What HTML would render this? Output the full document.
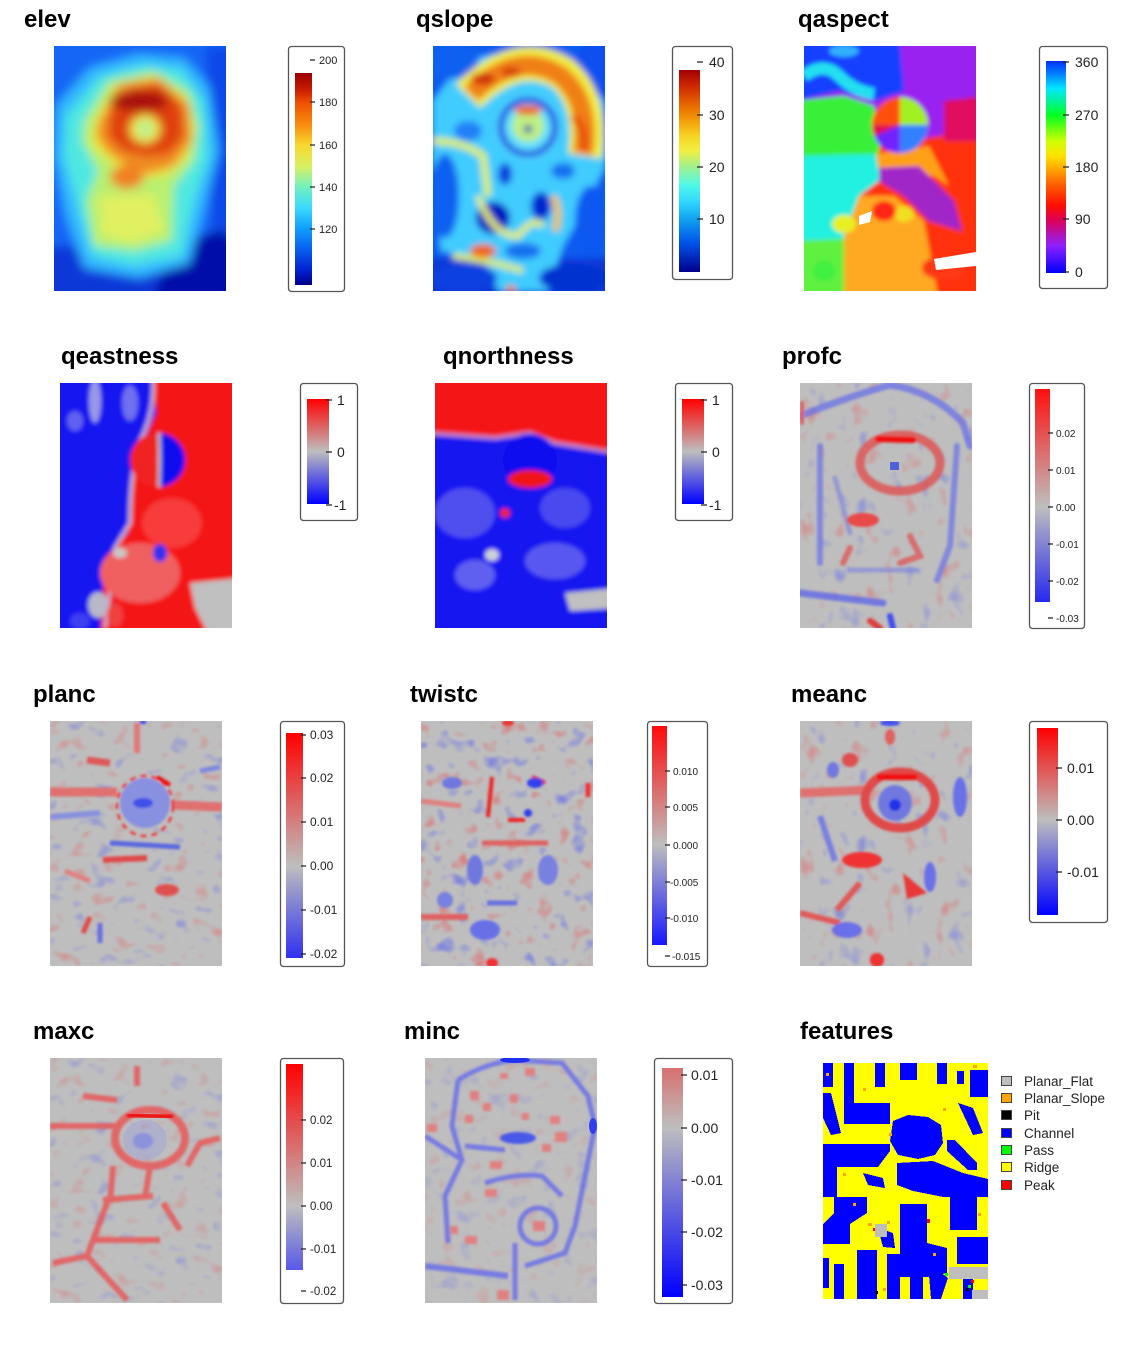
<!DOCTYPE html>
<html><head><meta charset="utf-8"><style>
html,body{margin:0;padding:0;background:#fff;}
svg{display:block;}
.t{font-family:"Liberation Sans",Arial,sans-serif;font-weight:bold;font-size:24px;fill:#000;}
.l{font-family:"Liberation Sans",Arial,sans-serif;fill:#222;}
.bx{fill:#fff;stroke:#555;stroke-width:1.3;}
.tk{stroke:#222;stroke-width:1.2;fill:none;}
</style></head><body>
<svg width="1125" height="1350" viewBox="0 0 1125 1350" xmlns="http://www.w3.org/2000/svg">
<defs>
<clipPath id="c"><rect x="0" y="0" width="172" height="245"/></clipPath>
<clipPath id="cf"><rect x="0" y="0" width="165" height="236"/></clipPath>
<filter id="b6" x="-30%" y="-30%" width="160%" height="160%"><feGaussianBlur stdDeviation="5"/></filter>
<filter id="b4" x="-30%" y="-30%" width="160%" height="160%"><feGaussianBlur stdDeviation="3.5"/></filter>
<filter id="b2" x="-30%" y="-30%" width="160%" height="160%"><feGaussianBlur stdDeviation="2"/></filter>
<filter id="b1" x="-30%" y="-30%" width="160%" height="160%"><feGaussianBlur stdDeviation="1.3"/></filter>
<filter id="n1" x="0" y="0" width="100%" height="100%" color-interpolation-filters="sRGB">
<feTurbulence type="fractalNoise" baseFrequency="0.06 0.045" numOctaves="2" seed="3" result="t"/>
<feColorMatrix in="t" type="matrix" values="0 0 0 0 0.92  0 0 0 0 0.32  0 0 0 0 0.32  4 0 0 0 -2.5" result="r"/>
<feColorMatrix in="t" type="matrix" values="0 0 0 0 0.32  0 0 0 0 0.36  0 0 0 0 0.95  -4 0 0 0 1.5" result="b"/>
<feMerge result="m"><feMergeNode in="r"/><feMergeNode in="b"/></feMerge>
<feGaussianBlur in="m" stdDeviation="0.8"/></filter>
<filter id="n2" x="0" y="0" width="100%" height="100%" color-interpolation-filters="sRGB">
<feTurbulence type="fractalNoise" baseFrequency="0.05 0.065" numOctaves="2" seed="11" result="t"/>
<feColorMatrix in="t" type="matrix" values="0 0 0 0 0.92  0 0 0 0 0.32  0 0 0 0 0.32  4 0 0 0 -2.5" result="r"/>
<feColorMatrix in="t" type="matrix" values="0 0 0 0 0.32  0 0 0 0 0.36  0 0 0 0 0.95  -4 0 0 0 1.5" result="b"/>
<feMerge result="m"><feMergeNode in="r"/><feMergeNode in="b"/></feMerge>
<feGaussianBlur in="m" stdDeviation="0.8"/></filter>
<filter id="n3" x="0" y="0" width="100%" height="100%" color-interpolation-filters="sRGB">
<feTurbulence type="fractalNoise" baseFrequency="0.06" numOctaves="2" seed="27" result="t"/>
<feColorMatrix in="t" type="matrix" values="0 0 0 0 0.92  0 0 0 0 0.32  0 0 0 0 0.32  4 0 0 0 -2.4" result="r"/>
<feColorMatrix in="t" type="matrix" values="0 0 0 0 0.32  0 0 0 0 0.36  0 0 0 0 0.95  -4 0 0 0 1.6" result="b"/>
<feMerge result="m"><feMergeNode in="r"/><feMergeNode in="b"/></feMerge>
<feGaussianBlur in="m" stdDeviation="0.8"/></filter>
<linearGradient id="gElev" x1="0" y1="0" x2="0" y2="1">
<stop offset="0" stop-color="#990000"/><stop offset="0.08" stop-color="#c81e00"/><stop offset="0.14" stop-color="#f05000"/><stop offset="0.25" stop-color="#f89010"/><stop offset="0.34" stop-color="#f8d830"/><stop offset="0.44" stop-color="#d8f060"/><stop offset="0.54" stop-color="#70f0c0"/><stop offset="0.64" stop-color="#38d8ff"/><stop offset="0.73" stop-color="#10a0ff"/><stop offset="0.83" stop-color="#0860f0"/><stop offset="0.93" stop-color="#0020d0"/><stop offset="1" stop-color="#00008b"/></linearGradient>
<linearGradient id="gSlope" x1="0" y1="0" x2="0" y2="1">
<stop offset="0" stop-color="#a00000"/><stop offset="0.08" stop-color="#d02800"/><stop offset="0.22" stop-color="#f08800"/><stop offset="0.32" stop-color="#f8d020"/><stop offset="0.40" stop-color="#f0f040"/><stop offset="0.48" stop-color="#a0f090"/><stop offset="0.57" stop-color="#50f8e8"/><stop offset="0.65" stop-color="#30d8ff"/><stop offset="0.74" stop-color="#10a0f0"/><stop offset="0.86" stop-color="#0050e8"/><stop offset="1" stop-color="#00008b"/></linearGradient>
<linearGradient id="gAsp" x1="0" y1="0" x2="0" y2="1">
<stop offset="0" stop-color="#0030ff"/><stop offset="0.06" stop-color="#0080ff"/><stop offset="0.13" stop-color="#00e8ff"/><stop offset="0.255" stop-color="#00ff20"/><stop offset="0.38" stop-color="#d0ff00"/><stop offset="0.45" stop-color="#ffe000"/><stop offset="0.5" stop-color="#ffb000"/><stop offset="0.6" stop-color="#ff5000"/><stop offset="0.68" stop-color="#ff1000"/><stop offset="0.745" stop-color="#e00050"/><stop offset="0.87" stop-color="#9020ff"/><stop offset="1" stop-color="#0000ff"/></linearGradient>
<linearGradient id="gRB" x1="0" y1="0" x2="0" y2="1"><stop offset="0" stop-color="#ff0000"/><stop offset="0.5" stop-color="#bebebe"/><stop offset="1" stop-color="#0000ff"/></linearGradient>
<linearGradient id="gProf" x1="0" y1="0" x2="0" y2="1"><stop offset="0" stop-color="#ff1010"/><stop offset="0.554" stop-color="#bebebe"/><stop offset="1" stop-color="#2828f0"/></linearGradient>
<linearGradient id="gPlan" x1="0" y1="0" x2="0" y2="1"><stop offset="0" stop-color="#ff0000"/><stop offset="0.59" stop-color="#bebebe"/><stop offset="1" stop-color="#3030f0"/></linearGradient>
<linearGradient id="gTwist" x1="0" y1="0" x2="0" y2="1"><stop offset="0" stop-color="#ff0a0a"/><stop offset="0.54" stop-color="#bebebe"/><stop offset="1" stop-color="#1818ff"/></linearGradient>
<linearGradient id="gMean" x1="0" y1="0" x2="0" y2="1"><stop offset="0" stop-color="#ff0000"/><stop offset="0.49" stop-color="#bebebe"/><stop offset="1" stop-color="#0000ff"/></linearGradient>
<linearGradient id="gMax" x1="0" y1="0" x2="0" y2="1"><stop offset="0" stop-color="#ff0000"/><stop offset="0.69" stop-color="#bebebe"/><stop offset="1" stop-color="#5858e8"/></linearGradient>
<linearGradient id="gMin" x1="0" y1="0" x2="0" y2="1"><stop offset="0" stop-color="#d87070"/><stop offset="0.26" stop-color="#bebebe"/><stop offset="1" stop-color="#0000ff"/></linearGradient>
</defs>

<!-- ===== Titles ===== -->
<text class="t" x="24" y="27">elev</text>
<text class="t" x="416" y="27">qslope</text>
<text class="t" x="798" y="27">qaspect</text>
<text class="t" x="61" y="364">qeastness</text>
<text class="t" x="443" y="364">qnorthness</text>
<text class="t" x="782" y="364">profc</text>
<text class="t" x="33" y="702">planc</text>
<text class="t" x="410" y="702">twistc</text>
<text class="t" x="791" y="702">meanc</text>
<text class="t" x="33" y="1039">maxc</text>
<text class="t" x="404" y="1039">minc</text>
<text class="t" x="800" y="1039">features</text>

<!-- ===== elev raster ===== -->
<g transform="translate(54,46)" clip-path="url(#c)">
<g filter="url(#b6)">
<rect x="-20" y="-20" width="212" height="285" fill="#1466f5"/>
<rect x="-20" y="200" width="212" height="70" fill="#0838d8"/>
<polygon points="115,205 192,170 192,265 95,265" fill="#0010a8"/>
<polygon points="152,0 192,0 192,200 158,180" fill="#0a4ae8"/>
<polygon points="2,60 35,22 85,8 130,12 155,40 165,105 150,165 135,218 85,232 30,222 12,170 0,110" fill="#30b8ff"/>
<polygon points="12,70 45,30 90,18 128,24 150,55 155,110 140,155 128,210 80,220 38,210 25,165 10,110" fill="#50e8e0"/>
<polygon points="30,75 55,35 100,25 135,45 145,80 140,115 120,140 118,195 80,205 40,200 32,155 44,125 28,95" fill="#b8f070"/>
<polygon points="40,78 60,40 100,30 132,52 140,85 132,112 110,130 80,132 55,115 38,98" fill="#f0e838"/>
<polygon points="45,150 100,148 110,185 80,196 48,190" fill="#e0f060"/>
<polygon points="45,75 65,38 105,32 135,58 138,95 120,120 95,128 75,120 55,108 42,90" fill="#f08a20"/>
<ellipse cx="73" cy="131" rx="17" ry="12" fill="#f08020"/>
<polygon points="55,70 75,42 105,38 128,60 130,90 115,108 92,110 70,105 55,92" fill="#e04010"/>
<ellipse cx="85" cy="55" rx="30" ry="10" fill="#a80808"/>
<ellipse cx="91" cy="83" rx="15" ry="14" fill="#e8f050"/>
<ellipse cx="91" cy="83" rx="7" ry="7" fill="#a8f0a0"/>
</g></g>
<rect class="bx" x="288.5" y="46.5" width="56" height="245" rx="3"/>
<rect x="295" y="73" width="17" height="212" fill="url(#gElev)"/>
<path class="tk" d="M310 60h5M310 102h5M310 145h5M310 187h5M310 229h5"/>
<g class="l" font-size="11"><text x="319" y="64">200</text><text x="319" y="106">180</text><text x="319" y="149">160</text><text x="319" y="191">140</text><text x="319" y="233">120</text></g>

<!-- ===== qslope raster ===== -->
<g transform="translate(433,46)" clip-path="url(#c)">
<g filter="url(#b4)">
<rect x="-20" y="-20" width="212" height="285" fill="#0a5cf0"/>
<rect x="-20" y="212" width="212" height="60" fill="#0838d8"/>
<polygon points="0,55 30,15 90,3 140,15 170,55 172,120 150,165 130,200 115,245 65,245 50,212 8,205 0,130" fill="#40ccff"/>
<ellipse cx="60" cy="172" rx="17" ry="16" fill="#0018c0"/>
<ellipse cx="108" cy="160" rx="10" ry="14" fill="#0028d0"/>
<ellipse cx="72" cy="128" rx="7" ry="11" fill="#1040e0"/>
<ellipse cx="12" cy="150" rx="14" ry="42" fill="#1060f0"/>
<ellipse cx="158" cy="175" rx="16" ry="35" fill="#0a58f0"/>
<ellipse cx="30" cy="232" rx="34" ry="14" fill="#0840e0"/>
<ellipse cx="140" cy="232" rx="34" ry="14" fill="#0030d0"/>
<ellipse cx="20" cy="15" rx="25" ry="18" fill="#1060f0"/>
<ellipse cx="165" cy="20" rx="22" ry="30" fill="#0a50f0"/>
<ellipse cx="35" cy="85" rx="14" ry="10" fill="#2080f8"/>
<ellipse cx="130" cy="125" rx="12" ry="8" fill="#1870f0"/>
<ellipse cx="90" cy="205" rx="18" ry="8" fill="#1870f0"/>
<path d="M35 50 Q85 0 130 28 Q160 55 152 110" stroke="#f0f040" stroke-width="34" fill="none"/>
<path d="M38 48 Q85 2 128 30 Q158 56 150 108" stroke="#f08018" stroke-width="20" fill="none"/>
<ellipse cx="50" cy="33" rx="12" ry="6" fill="#d03008"/>
<ellipse cx="78" cy="26" rx="10" ry="5" fill="#d84010"/>
<path d="M140 70 Q155 85 150 105" stroke="#e85010" stroke-width="8" fill="none"/>
<circle cx="95" cy="81" r="32" fill="#60e0ff"/>
<circle cx="95" cy="81" r="27" fill="none" stroke="#1030e0" stroke-width="6"/>
<circle cx="95" cy="80" r="16" fill="#c0f080"/>
<ellipse cx="95" cy="64" rx="14" ry="5" fill="#f06020"/>
<circle cx="95" cy="83" r="4" fill="#1020c0"/>
<path d="M0 95 Q30 95 50 110 L55 150" stroke="#e0f050" stroke-width="7" fill="none"/>
<path d="M45 150 Q60 190 85 190 Q100 170 110 180" stroke="#e8f048" stroke-width="6" fill="none"/>
<path d="M120 150 Q128 165 122 185" stroke="#f0c030" stroke-width="7" fill="none"/>
<path d="M20 210 Q60 215 90 225" stroke="#e0f050" stroke-width="6" fill="none"/>
<ellipse cx="50" cy="205" rx="13" ry="7" fill="#f06818"/>
<ellipse cx="78" cy="243" rx="5" ry="4" fill="#f08020"/>
</g></g>
<rect class="bx" x="672.5" y="46.5" width="60" height="233" rx="3"/>
<rect x="679" y="70" width="21" height="202" fill="url(#gSlope)"/>
<path class="tk" d="M697 62h6M697 115h6M697 167h6M697 219h6"/>
<g class="l" font-size="14"><text x="709" y="67">40</text><text x="709" y="120">30</text><text x="709" y="172">20</text><text x="709" y="224">10</text></g>

<!-- ===== qaspect raster ===== -->
<g transform="translate(804,46)" clip-path="url(#c)">
<g filter="url(#b2)">
<rect x="-10" y="-10" width="192" height="265" fill="#9a20f0"/>
<polygon points="-10,-10 95,-10 100,45 70,55 35,45 -10,55" fill="#1840ff"/>
<path d="M0 30 Q20 15 35 30 Q50 45 70 48" stroke="#20e0f0" stroke-width="12" fill="none"/>
<ellipse cx="40" cy="5" rx="15" ry="6" fill="#30b0ff"/>
<polygon points="-10,55 40,50 70,60 78,110 -10,115" fill="#38f038"/>
<polygon points="-10,110 75,108 75,140 60,170 55,200 -10,200" fill="#20f0e0"/>
<polygon points="-10,195 55,192 62,255 -10,255" fill="#60f040"/>
<polygon points="75,100 182,82 182,255 55,255 55,150 75,135" fill="#ff3010"/>
<polygon points="72,108 125,100 145,140 130,130 75,125" fill="#ffa018"/>
<polygon points="55,150 90,150 120,175 135,255 40,255 40,190" fill="#ffa820"/>
<ellipse cx="40" cy="178" rx="12" ry="9" fill="#e8f020"/>
<ellipse cx="100" cy="168" rx="10" ry="8" fill="#f0e020"/>
<ellipse cx="80" cy="165" rx="12" ry="10" fill="#ff2818"/>
<ellipse cx="140" cy="222" rx="22" ry="12" fill="#ff3818"/>
<ellipse cx="20" cy="225" rx="12" ry="10" fill="#40f040"/>
<polygon points="75,122 115,120 150,155 158,185 125,175 100,150 75,135" fill="#a028c8"/>
<polygon points="140,55 182,50 182,95 140,95" fill="#e01060"/>
<circle cx="96" cy="79" r="28" fill="#ff5010"/>
<path d="M96 79 L96 51 A28 28 0 0 1 124 79 Z" fill="#a0f020"/>
<path d="M96 79 L124 79 A28 28 0 0 1 96 107 Z" fill="#3080ff"/>
<path d="M96 79 L96 107 A28 28 0 0 1 70 90 Z" fill="#7020ff"/>
<path d="M96 79 L70 90 A28 28 0 0 1 68 79 Z" fill="#e01050"/>
</g>
<polygon points="55,170 68,165 66,176 55,179" fill="#fff"/>
<polygon points="130,213 172,206 172,220 132,224" fill="#fff"/>
</g>
<rect class="bx" x="1039.5" y="46.5" width="68" height="242" rx="3"/>
<rect x="1046" y="61" width="20" height="212" fill="url(#gAsp)"/>
<path class="tk" d="M1063 62h6M1063 115h6M1063 167h6M1063 219h6M1063 272h6"/>
<g class="l" font-size="14"><text x="1075" y="67">360</text><text x="1075" y="120">270</text><text x="1075" y="172">180</text><text x="1075" y="224">90</text><text x="1075" y="277">0</text></g>

<!-- ===== qeastness raster ===== -->
<g transform="translate(60,383)" clip-path="url(#c)">
<g filter="url(#b2)">
<rect x="-10" y="-10" width="192" height="265" fill="#f41818"/>
<polygon points="-10,-10 92,-10 96,30 85,55 75,75 70,100 68,150 58,160 45,175 40,255 -10,255" fill="#1414f0"/>
<ellipse cx="35" cy="18" rx="6" ry="22" fill="#9898e8"/>
<ellipse cx="15" cy="38" rx="8" ry="10" fill="#6060f0"/>
<ellipse cx="70" cy="20" rx="8" ry="18" fill="#7070f0"/>
<path d="M93 -5 Q95 30 80 58 Q70 90 70 140 L55 165 L45 245" stroke="#c8a8c8" stroke-width="4" fill="none"/>
<circle cx="97" cy="77" r="27" fill="#f02020"/>
<path d="M97 50 A27 27 0 0 1 99 104 L100 77 Z" fill="#1010f0"/>
<path d="M99 50 Q100 77 99 104" stroke="#c0c0c0" stroke-width="3" fill="none"/>
<ellipse cx="80" cy="190" rx="40" ry="30" fill="#f06060"/>
<ellipse cx="112" cy="140" rx="30" ry="25" fill="#f83a3a"/>
<ellipse cx="100" cy="170" rx="7" ry="9" fill="#3030f0"/>
<polygon points="130,200 182,195 182,255 150,255 135,225" fill="#c0c0c0"/>
<ellipse cx="38" cy="222" rx="10" ry="13" fill="#b8b8c8"/>
<ellipse cx="55" cy="232" rx="8" ry="12" fill="#f04040"/>
<ellipse cx="20" cy="238" rx="10" ry="8" fill="#4040f0"/>
<ellipse cx="60" cy="170" rx="7" ry="5" fill="#c8c8c8"/>
</g></g>
<rect class="bx" x="300.5" y="383.5" width="57" height="137" rx="3"/>
<rect x="307" y="399" width="22" height="105" fill="url(#gRB)"/>
<path class="tk" d="M326 400h6M326 452h6M326 505h6"/>
<g class="l" font-size="14"><text x="337" y="405">1</text><text x="337" y="457">0</text><text x="334" y="510">-1</text></g>

<!-- ===== qnorthness raster ===== -->
<g transform="translate(435,383)" clip-path="url(#c)">
<g filter="url(#b2)">
<rect x="-10" y="-10" width="192" height="265" fill="#1818f0"/>
<polygon points="-10,-10 182,-10 182,70 120,60 95,50 60,55 -10,50" fill="#f41414"/>
<path d="M-10 50 L60 55 L95 50 L120 60 L182 70" stroke="#c080c0" stroke-width="4" fill="none"/>
<ellipse cx="30" cy="130" rx="30" ry="25" fill="#5050f0"/>
<ellipse cx="130" cy="125" rx="25" ry="20" fill="#4848f0"/>
<ellipse cx="120" cy="178" rx="30" ry="18" fill="#5858f0"/>
<ellipse cx="40" cy="192" rx="20" ry="15" fill="#6060f0"/>
<circle cx="95" cy="78" r="27" fill="#1010f0"/>
<ellipse cx="95" cy="96" rx="22" ry="9" fill="#f01818"/>
<circle cx="70" cy="130" r="5" fill="#f02020"/>
<ellipse cx="57" cy="172" rx="7" ry="6" fill="#d0d0d8"/>
<polygon points="130,210 182,205 182,225 135,228" fill="#c0c0c0"/>
</g></g>
<rect class="bx" x="675.5" y="383.5" width="57" height="137" rx="3"/>
<rect x="682" y="399" width="22" height="105" fill="url(#gRB)"/>
<path class="tk" d="M701 400h6M701 452h6M701 505h6"/>
<g class="l" font-size="14"><text x="712" y="405">1</text><text x="712" y="457">0</text><text x="709" y="510">-1</text></g>

<!-- ===== profc raster ===== -->
<g transform="translate(800,383)" clip-path="url(#c)">
<rect width="172" height="245" fill="#bebebe"/>
<rect width="172" height="245" filter="url(#n1)" opacity="0.4"/>
<g filter="url(#b1)" fill="none" stroke-linecap="round">
<path d="M0 33 Q50 13 90 2 Q133 8 163 40 L170 63" stroke="#6a70e8" stroke-width="7" opacity="0.75"/>
<path d="M20 63 L20 180" stroke="#6a70e8" stroke-width="6" opacity="0.7"/>
<path d="M157 63 L150 163 L137 197" stroke="#6a70e8" stroke-width="6" opacity="0.7"/>
<path d="M0 210 L83 220" stroke="#5a62e8" stroke-width="7" opacity="0.75"/>
<path d="M50 187 L117 187" stroke="#7a80e0" stroke-width="5" opacity="0.6"/>
<path d="M90 233 L93 245" stroke="#4050f0" stroke-width="6"/>
<path d="M35 95 L50 150" stroke="#7a80e0" stroke-width="5" opacity="0.6"/>
<ellipse cx="100" cy="80" rx="40" ry="28" stroke="#e05050" stroke-width="9" opacity="0.8"/>
<path d="M78 56 L113 57" stroke="#f01010" stroke-width="6"/>
<path d="M50 165 L43 180 M110 153 L120 173 L100 180" stroke="#e05858" stroke-width="6" opacity="0.8"/>
<path d="M70 238 L80 245" stroke="#e04040" stroke-width="6"/>
<path d="M2 20 L2 40" stroke="#e06060" stroke-width="4"/>
</g>
<ellipse cx="63" cy="137" rx="16" ry="7" fill="#e84848" filter="url(#b1)"/>
<rect x="90" y="79" width="9" height="8" fill="#5060d8"/>
</g>
<rect class="bx" x="1029.5" y="383.5" width="55" height="245" rx="3"/>
<rect x="1035" y="389" width="15" height="213" fill="url(#gProf)"/>
<path class="tk" d="M1048 433h5M1048 470h5M1048 507h5M1048 544h5M1048 581h5M1048 618h5"/>
<g class="l" font-size="10"><text x="1056" y="437">0.02</text><text x="1056" y="474">0.01</text><text x="1056" y="511">0.00</text><text x="1056" y="548">-0.01</text><text x="1056" y="585">-0.02</text><text x="1056" y="622">-0.03</text></g>

<!-- ===== planc raster ===== -->
<g transform="translate(50,721)" clip-path="url(#c)">
<rect width="172" height="245" fill="#bebebe"/>
<rect width="172" height="245" filter="url(#n2)" opacity="0.4"/>
<g filter="url(#b1)" fill="none">
<path d="M0 71 L67 71" stroke="#e07070" stroke-width="9"/>
<path d="M123 84 L172 86" stroke="#e07070" stroke-width="9"/>
<path d="M37 39 L60 42" stroke="#e05858" stroke-width="7"/>
<path d="M87 2 L87 32" stroke="#e07878" stroke-width="6"/>
<path d="M0 96 L50 92" stroke="#8890e0" stroke-width="6"/>
<path d="M150 50 L170 46" stroke="#8088e0" stroke-width="5"/>
<ellipse cx="95" cy="82" rx="25" ry="25" fill="#8890e0" stroke="none"/>
<ellipse cx="93" cy="82" rx="10" ry="5" fill="#4050e8" stroke="none"/>
<ellipse cx="95" cy="85" rx="28" ry="30" stroke="#f03030" stroke-width="2.5" stroke-dasharray="6 5"/>
<path d="M107 56 L120 64" stroke="#f01010" stroke-width="4"/>
<path d="M60 122 L130 126" stroke="#5868e0" stroke-width="5"/>
<path d="M53 139 L97 137" stroke="#e04848" stroke-width="6"/>
<ellipse cx="117" cy="169" rx="12" ry="6" fill="#e05050" stroke="none"/>
<path d="M40 196 L33 212" stroke="#e04848" stroke-width="5"/>
<path d="M50 202 L50 222" stroke="#6a70e0" stroke-width="5"/>
<path d="M90 1 L96 1" stroke="#4050f0" stroke-width="4"/>
<path d="M15 150 L40 160" stroke="#e08080" stroke-width="5"/>
</g></g>
<rect class="bx" x="280.5" y="721.5" width="64" height="245" rx="3"/>
<rect x="286" y="733" width="17" height="225" fill="url(#gPlan)"/>
<path class="tk" d="M301 735h5M301 778h5M301 822h5M301 866h5M301 910h5M301 954h5"/>
<g class="l" font-size="12"><text x="310" y="739">0.03</text><text x="310" y="782">0.02</text><text x="310" y="826">0.01</text><text x="310" y="870">0.00</text><text x="310" y="914">-0.01</text><text x="310" y="958">-0.02</text></g>

<!-- ===== twistc raster ===== -->
<g transform="translate(421,721)" clip-path="url(#c)">
<rect width="172" height="245" fill="#bebebe"/>
<rect width="172" height="245" filter="url(#n3)" opacity="0.55"/>
<g filter="url(#b1)" fill="none">
<path d="M71 56 L67 96" stroke="#f02020" stroke-width="4"/>
<path d="M87 99 L104 99" stroke="#f02020" stroke-width="4"/>
<path d="M111 56 L124 62" stroke="#e83030" stroke-width="4"/>
<ellipse cx="114" cy="62" rx="8" ry="5" fill="#3040f0" stroke="none"/>
<circle cx="107" cy="92" r="4" fill="#3040f0" stroke="none"/>
<path d="M61 122 L127 122" stroke="#e06060" stroke-width="5"/>
<path d="M0 196 L47 196" stroke="#e06060" stroke-width="6"/>
<path d="M167 62 L167 76" stroke="#f03030" stroke-width="5"/>
<ellipse cx="71" cy="242" rx="6" ry="5" fill="#f03030" stroke="none"/>
<ellipse cx="87" cy="2" rx="6" ry="3" fill="#f03030" stroke="none"/>
<ellipse cx="31" cy="62" rx="10" ry="6" fill="#7078e0" stroke="none"/>
<ellipse cx="54" cy="149" rx="8" ry="15" fill="#7078e0" stroke="none"/>
<ellipse cx="64" cy="209" rx="15" ry="10" fill="#6870e8" stroke="none"/>
<ellipse cx="127" cy="149" rx="10" ry="15" fill="#7880e0" stroke="none"/>
<path d="M66 182 L96 182" stroke="#6870e0" stroke-width="5"/>
<ellipse cx="24" cy="179" rx="8" ry="8" fill="#7880e0" stroke="none"/>
<path d="M0 80 L40 85" stroke="#e08080" stroke-width="5"/>
</g></g>
<rect class="bx" x="647.5" y="721.5" width="60" height="245" rx="3"/>
<rect x="652" y="726" width="15" height="219" fill="url(#gTwist)"/>
<path class="tk" d="M665 771h5M665 807h5M665 845h5M665 882h5M665 918h5M665 956h5"/>
<g class="l" font-size="10"><text x="673" y="775">0.010</text><text x="673" y="811">0.005</text><text x="673" y="849">0.000</text><text x="670" y="886">-0.005</text><text x="670" y="922">-0.010</text><text x="672" y="960">-0.015</text></g>

<!-- ===== meanc raster ===== -->
<g transform="translate(800,721)" clip-path="url(#c)">
<rect width="172" height="245" fill="#bebebe"/>
<rect width="172" height="245" filter="url(#n1)" opacity="0.45"/>
<g filter="url(#b1)" fill="none">
<path d="M0 72 L70 69" stroke="#e07070" stroke-width="9"/>
<ellipse cx="100" cy="79" rx="35" ry="28" stroke="#e04848" stroke-width="9"/>
<path d="M77 56 L117 56" stroke="#f01010" stroke-width="6"/>
<ellipse cx="95" cy="82" rx="17" ry="18" fill="#7078e0" stroke="none"/>
<circle cx="95" cy="84" r="6" fill="#2030e8" stroke="none"/>
<ellipse cx="50" cy="39" rx="8" ry="7" fill="#e05050" stroke="none"/>
<ellipse cx="90" cy="16" rx="5" ry="8" fill="#e06060" stroke="none"/>
<ellipse cx="62" cy="139" rx="20" ry="8" fill="#f03030" stroke="none"/>
<polygon points="103,152 127,172 107,178" fill="#e83838" stroke="none"/>
<path d="M37 189 L60 162 M0 192 L40 202" stroke="#e05858" stroke-width="6"/>
<ellipse cx="77" cy="239" rx="7" ry="7" fill="#f03030" stroke="none"/>
<ellipse cx="47" cy="209" rx="15" ry="8" fill="#6a70e8" stroke="none"/>
<ellipse cx="130" cy="156" rx="6" ry="15" fill="#6a70e8" stroke="none"/>
<ellipse cx="160" cy="76" rx="7" ry="20" fill="#6a70e8" stroke="none"/>
<ellipse cx="33" cy="49" rx="6" ry="8" fill="#7078e0" stroke="none"/>
<ellipse cx="90" cy="2" rx="10" ry="3" fill="#4050f0" stroke="none"/>
<path d="M20 95 L35 140" stroke="#7880e0" stroke-width="6"/>
</g></g>
<rect class="bx" x="1029.5" y="721.5" width="78" height="201" rx="3"/>
<rect x="1037" y="728" width="21" height="187" fill="url(#gMean)"/>
<path class="tk" d="M1056 768h6M1056 820h6M1056 872h6"/>
<g class="l" font-size="14"><text x="1067" y="773">0.01</text><text x="1067" y="825">0.00</text><text x="1067" y="877">-0.01</text></g>

<!-- ===== maxc raster ===== -->
<g transform="translate(50,1058)" clip-path="url(#c)">
<rect width="172" height="245" fill="#bebebe"/>
<rect width="172" height="245" filter="url(#n2)" opacity="0.3"/>
<g filter="url(#b1)" fill="none" stroke="#e85858" stroke-width="6" opacity="0.85">
<ellipse cx="100" cy="80" rx="35" ry="28" stroke-width="8"/>
<path d="M0 68 L67 68"/>
<path d="M33 38 L67 42 M87 8 L87 28"/>
<path d="M53 142 L103 138"/>
<path d="M63 108 L60 145"/>
<path d="M113 145 L130 172"/>
<path d="M57 145 L37 198 L3 205 M37 198 L77 242"/>
<path d="M43 182 L110 182"/>
<path d="M137 108 L150 85 L170 80"/>
<path d="M100 108 L95 140"/>
</g>
<path d="M77 57 L123 59" stroke="#f01010" stroke-width="5" fill="none" filter="url(#b1)"/>
<ellipse cx="93" cy="83" rx="10" ry="8" fill="#7880e0" filter="url(#b1)"/>
<ellipse cx="95" cy="82" rx="22" ry="20" fill="#a0a4d8" opacity="0.5"/>
</g>
<rect class="bx" x="280.5" y="1058.5" width="63" height="245" rx="3"/>
<rect x="286" y="1064" width="17" height="206" fill="url(#gMax)"/>
<path class="tk" d="M301 1120h5M301 1163h5M301 1206h5M301 1249h5M301 1291h5"/>
<g class="l" font-size="11.5"><text x="310" y="1124">0.02</text><text x="310" y="1167">0.01</text><text x="310" y="1210">0.00</text><text x="310" y="1253">-0.01</text><text x="310" y="1295">-0.02</text></g>

<!-- ===== minc raster ===== -->
<g transform="translate(425,1058)" clip-path="url(#c)">
<rect width="172" height="245" fill="#bebebe"/>
<rect width="172" height="245" filter="url(#n3)" opacity="0.2"/>
<g filter="url(#b1)" fill="#e08080">
<rect x="45" y="33" width="9" height="9"/><rect x="58" y="45" width="8" height="8"/><rect x="85" y="36" width="8" height="9"/>
<rect x="97" y="55" width="7" height="7"/><rect x="125" y="58" width="10" height="8"/><rect x="130" y="74" width="12" height="10"/>
<rect x="117" y="86" width="9" height="8"/><rect x="65" y="103" width="12" height="8"/><rect x="60" y="131" width="12" height="8"/>
<rect x="108" y="163" width="12" height="10"/><rect x="40" y="178" width="12" height="8"/><rect x="40" y="57" width="8" height="8"/>
<rect x="2" y="66" width="10" height="8"/><rect x="75" y="15" width="8" height="6"/><rect x="100" y="10" width="10" height="8"/>
<rect x="72" y="232" width="12" height="10"/><rect x="25" y="168" width="8" height="8"/>
</g>
<g filter="url(#b1)" fill="none" stroke="#6a70e8" stroke-width="5" opacity="0.85">
<path d="M33 22 Q60 5 90 2 L137 5 L163 38 L170 68 L160 118 L150 168 L140 195 L100 208"/>
<path d="M33 22 L27 68 L37 102 L20 138 L23 185"/>
<path d="M0 78 L37 102"/>
<path d="M0 208 L83 218" stroke-width="6"/>
<path d="M90 185 L90 242"/>
<path d="M60 125 Q90 115 117 118 L137 138"/>
<circle cx="113" cy="168" r="18"/>
<path d="M40 88 L80 92"/>
</g>
<ellipse cx="93" cy="80" rx="18" ry="6" fill="#4a58e8" filter="url(#b1)"/>
<ellipse cx="90" cy="2" rx="15" ry="3" fill="#2030f0"/>
<ellipse cx="168" cy="68" rx="4" ry="8" fill="#3040f0"/>
</g>
<rect class="bx" x="654.5" y="1058.5" width="78" height="245" rx="3"/>
<rect x="662" y="1068" width="21" height="229" fill="url(#gMin)"/>
<path class="tk" d="M681 1075h6M681 1128h6M681 1180h6M681 1232h6M681 1285h6"/>
<g class="l" font-size="14"><text x="691" y="1080">0.01</text><text x="691" y="1133">0.00</text><text x="691" y="1185">-0.01</text><text x="691" y="1237">-0.02</text><text x="691" y="1290">-0.03</text></g>

<!-- ===== features raster ===== -->
<g transform="translate(823,1063)" clip-path="url(#cf)" shape-rendering="crispEdges">
<rect width="165" height="236" fill="#ffff00"/>
<g fill="#0000ff">
<polygon points="0,0 10,0 10,24 0,24"/>
<polygon points="21,0 31,0 31,40 67,40 67,61 21,61 21,47"/>
<polygon points="52,0 62,0 62,24 52,24"/>
<polygon points="77,0 94,0 94,17 77,17"/>
<polygon points="114,0 124,0 124,21 114,21"/>
<polygon points="147,7 165,7 165,34 147,34"/>
<polygon points="134,8 141,8 141,21 134,21"/>
<polygon points="70,58 85,52 105,54 118,62 120,80 112,92 95,96 75,92 67,78"/>
<polygon points="0,81 67,81 67,88 55,104 14,104 14,134 0,134"/>
<polygon points="74,100 110,98 140,110 165,116 165,134 120,134 90,128 74,122"/>
<polygon points="124,77 132,77 154,100 154,107 145,107 124,88"/>
<polygon points="11,134 44,134 44,150 27,161 27,181 0,181 0,161 11,150"/>
<polygon points="77,141 104,141 104,180 124,185 124,210 104,214 77,214"/>
<polygon points="127,134 154,134 154,167 127,167"/>
<polygon points="134,174 165,174 165,201 134,201"/>
<polygon points="34,187 54,187 54,236 34,236"/>
<polygon points="64,191 77,191 77,236 64,236"/>
<polygon points="87,201 100,201 100,236 87,236"/>
<polygon points="11,201 21,201 21,236 11,236"/>
<polygon points="0,30 8,30 18,70 8,72 0,55"/>
<polygon points="135,40 150,45 160,70 150,72"/>
<polygon points="40,110 60,115 62,125 45,122"/>
<polygon points="105,200 125,215 118,236 108,236"/>
<polygon points="140,205 150,215 150,236 140,236"/>
<polygon points="0,195 6,195 6,225 0,225"/>
<polygon points="55,165 70,170 72,185 60,184"/>
</g>
<g fill="#bebebe">
<rect x="52" y="161" width="12" height="13"/><rect x="126" y="204" width="40" height="12"/><rect x="149" y="227" width="16" height="9"/>
</g>
<g fill="#ffa500">
<rect x="3" y="10" width="3" height="3"/><rect x="40" y="25" width="3" height="3"/><rect x="66" y="70" width="3" height="3"/><rect x="120" y="45" width="3" height="3"/><rect x="150" y="2" width="4" height="3"/><rect x="20" y="110" width="3" height="3"/><rect x="45" y="160" width="4" height="3"/><rect x="110" y="190" width="3" height="3"/><rect x="60" y="225" width="3" height="3"/><rect x="155" y="150" width="3" height="3"/><rect x="64" y="158" width="3" height="3"/><rect x="30" y="140" width="3" height="3"/>
</g>
<g fill="#ff0000"><rect x="104" y="156" width="3" height="4"/><rect x="50" y="165" width="2" height="3"/><rect x="148" y="217" width="3" height="3"/></g>
<g fill="#00ff00"><rect x="122" y="210" width="3" height="3"/><rect x="145" y="222" width="3" height="3"/></g>
<g fill="#000"><rect x="52" y="228" width="3" height="3"/><rect x="143" y="225" width="3" height="3"/></g>
</g>
<g>
<rect x="1001.5" y="1076.5" width="10" height="9" fill="#bebebe" stroke="#444"/>
<rect x="1001.5" y="1093.5" width="10" height="9" fill="#ffa500" stroke="#444"/>
<rect x="1001.5" y="1110.5" width="10" height="9" fill="#000000" stroke="#444"/>
<rect x="1001.5" y="1128.5" width="10" height="9" fill="#0000ff" stroke="#444"/>
<rect x="1001.5" y="1145.5" width="10" height="9" fill="#00ff00" stroke="#444"/>
<rect x="1001.5" y="1162.5" width="10" height="9" fill="#ffff00" stroke="#444"/>
<rect x="1001.5" y="1180.5" width="10" height="9" fill="#ff0000" stroke="#444"/>
</g>
<g class="l" font-size="13.5" fill="#111">
<text x="1024" y="1086">Planar_Flat</text>
<text x="1024" y="1103">Planar_Slope</text>
<text x="1024" y="1120">Pit</text>
<text x="1024" y="1138">Channel</text>
<text x="1024" y="1155">Pass</text>
<text x="1024" y="1172">Ridge</text>
<text x="1024" y="1190">Peak</text>
</g>
</svg>
</body></html>
